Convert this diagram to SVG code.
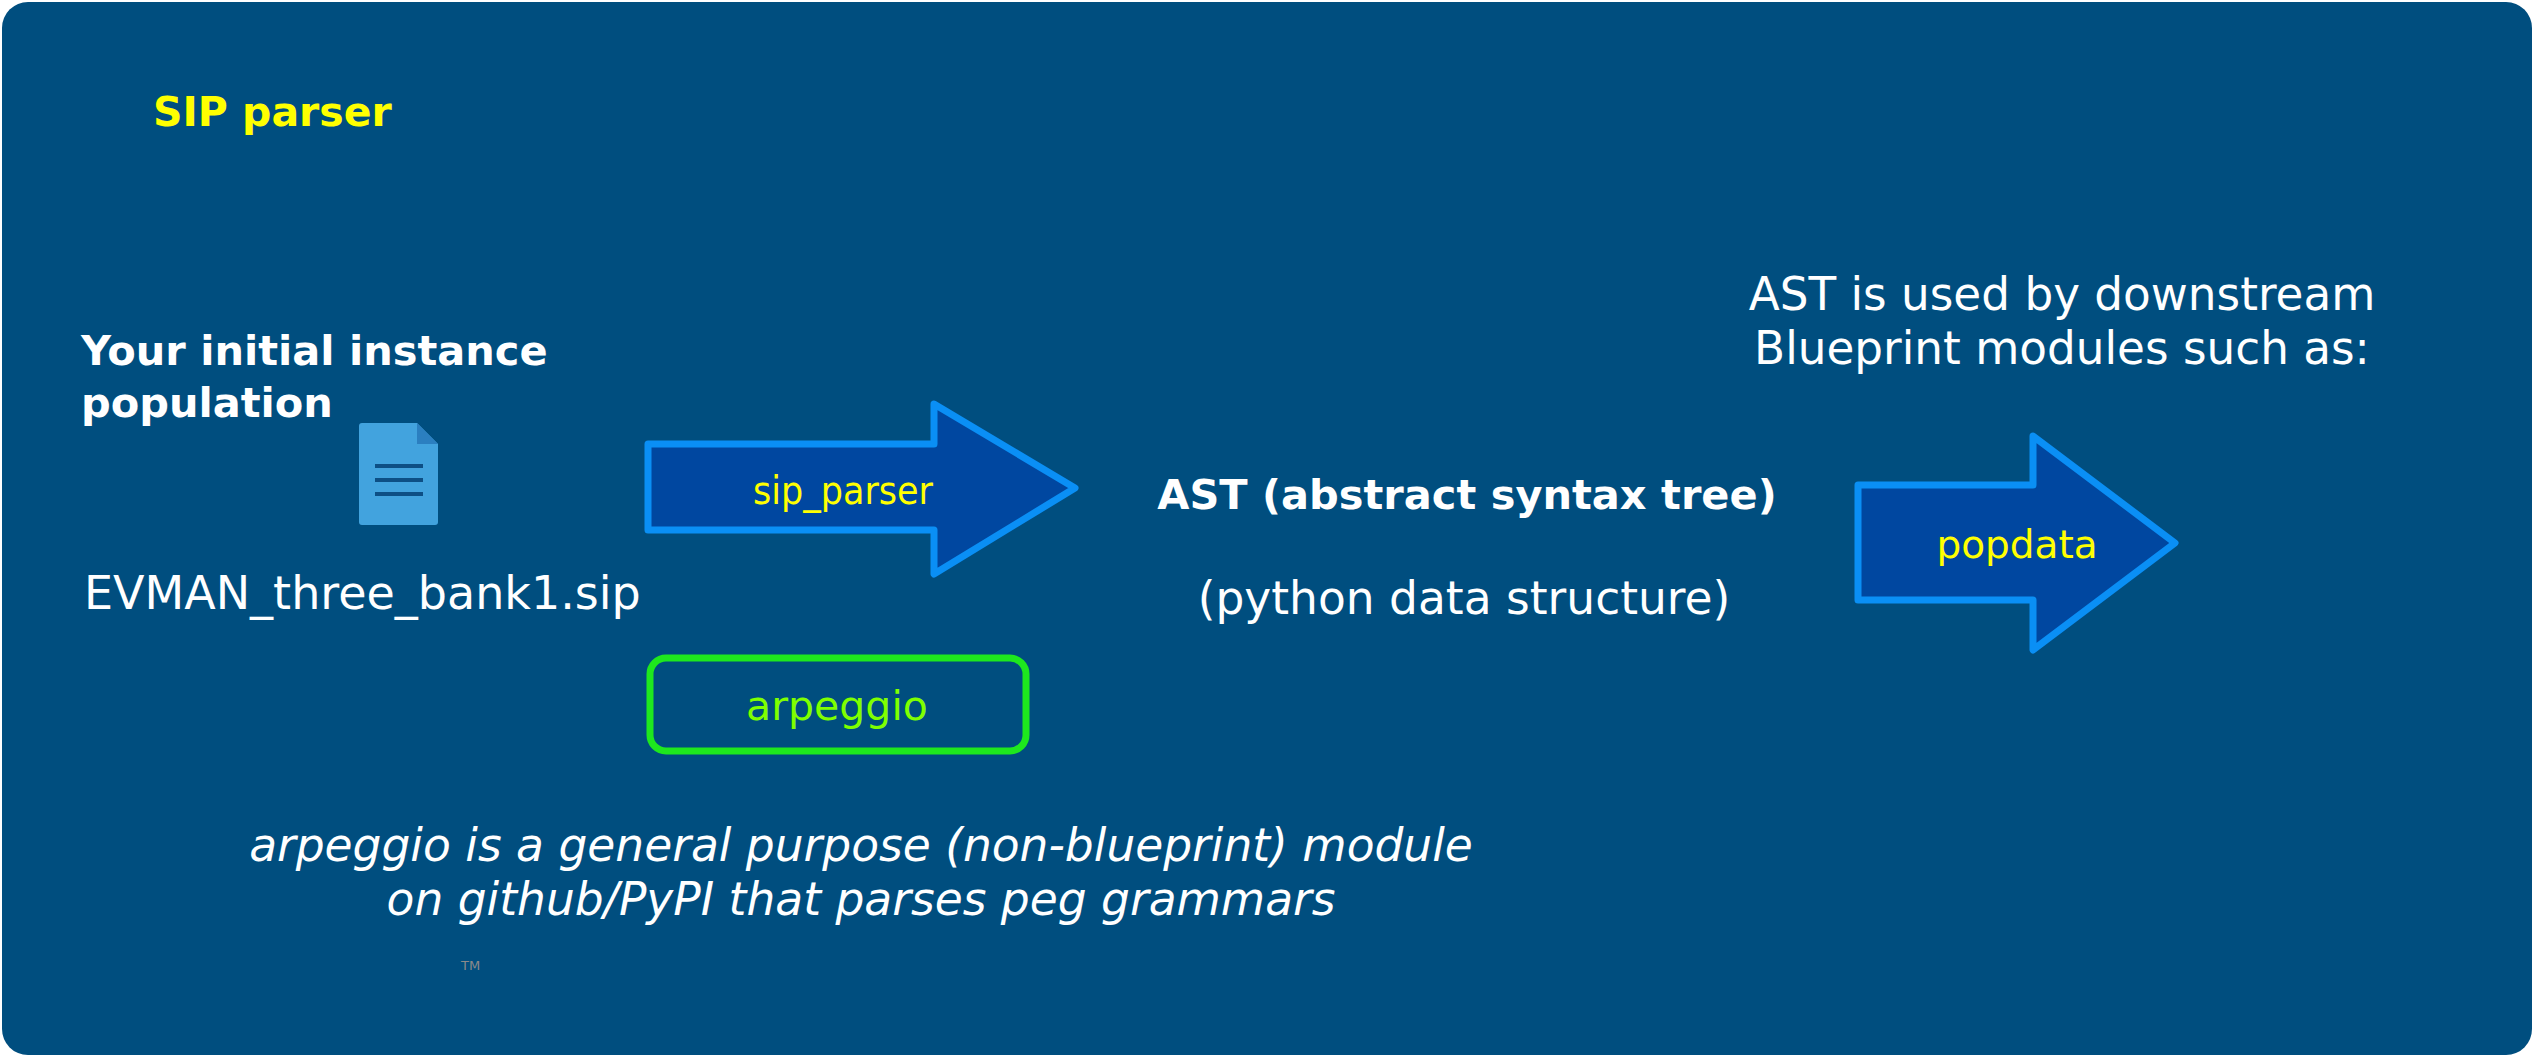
<svg xmlns="http://www.w3.org/2000/svg" width="2534" height="1059" viewBox="0 0 2534 1059">
<style>
text{font-family:"DejaVu Sans",Verdana,sans-serif;}
.w{fill:#ffffff;}
.y{fill:#ffff00;}
.b{font-weight:bold;}
.arrow{fill:#0047a0;stroke:#0a8ff5;stroke-width:7;stroke-linejoin:round;}
</style>
<rect x="2" y="2" width="2530" height="1053" rx="26" fill="#004e7f"/>
<text x="153" y="126" class="y b" font-size="41">SIP parser</text>
<g id="input">
<text x="81" y="365" class="w b" font-size="41.5">Your initial instance</text>
<text x="81" y="417" class="w b" font-size="41.5">population</text>
<path d="M362 423 H417 L438 444 V522 a3 3 0 0 1 -3 3 H362 a3 3 0 0 1 -3 -3 V426 a3 3 0 0 1 3 -3Z" fill="#42a3de"/>
<path d="M417 423 V444 H438Z" fill="#2b7fc0"/>
<g stroke="#0d4f85" stroke-width="4"><line x1="375" y1="466" x2="423" y2="466"/><line x1="375" y1="480" x2="423" y2="480"/><line x1="375" y1="494" x2="423" y2="494"/></g>
<text x="84" y="609" class="w" font-size="46">EVMAN_three_bank1.sip</text>
</g>
<g id="connectors">
<g id="sip_parser">
<path class="arrow" d="M648 444 H934 V404 L1075 488 L934 574 V530 H648 Z"/>
<text x="753" y="504" class="y" font-size="39" textLength="180" lengthAdjust="spacingAndGlyphs">sip_parser</text>
</g>
<g id="popdata">
<path class="arrow" d="M1858 485 H2033 V436 L2175 543 L2033 650 V600 H1858 Z"/>
<text x="2017" y="558" class="y" font-size="39" text-anchor="middle">popdata</text>
</g>
</g>
<g id="arpeggio">
<rect x="650" y="658" width="376" height="93" rx="16" fill="none" stroke="#1ee81e" stroke-width="7"/>
<text x="837" y="720" fill="#7fff00" font-size="41" text-anchor="middle">arpeggio</text>
</g>
<g id="ast">
<text x="1467" y="509" class="w b" font-size="41.5" text-anchor="middle">AST (abstract syntax tree)</text>
<text x="1464" y="614" class="w" font-size="45.5" text-anchor="middle">(python data structure)</text>
</g>
<g id="downstream">
<text x="2062" y="310" class="w" font-size="45.3" text-anchor="middle">AST is used by downstream</text>
<text x="2062" y="364" class="w" font-size="45.3" text-anchor="middle">Blueprint modules such as:</text>
</g>
<g id="note">
<text x="861" y="861" class="w" font-size="45.5" font-style="italic" text-anchor="middle">arpeggio is a general purpose (non-blueprint) module</text>
<text x="861" y="915" class="w" font-size="45.5" font-style="italic" text-anchor="middle">on github/PyPI that parses peg grammars</text>
</g>
<text x="461" y="970" fill="#8a8a8a" font-size="13" font-family="Liberation Sans,sans-serif">TM</text>
</svg>
